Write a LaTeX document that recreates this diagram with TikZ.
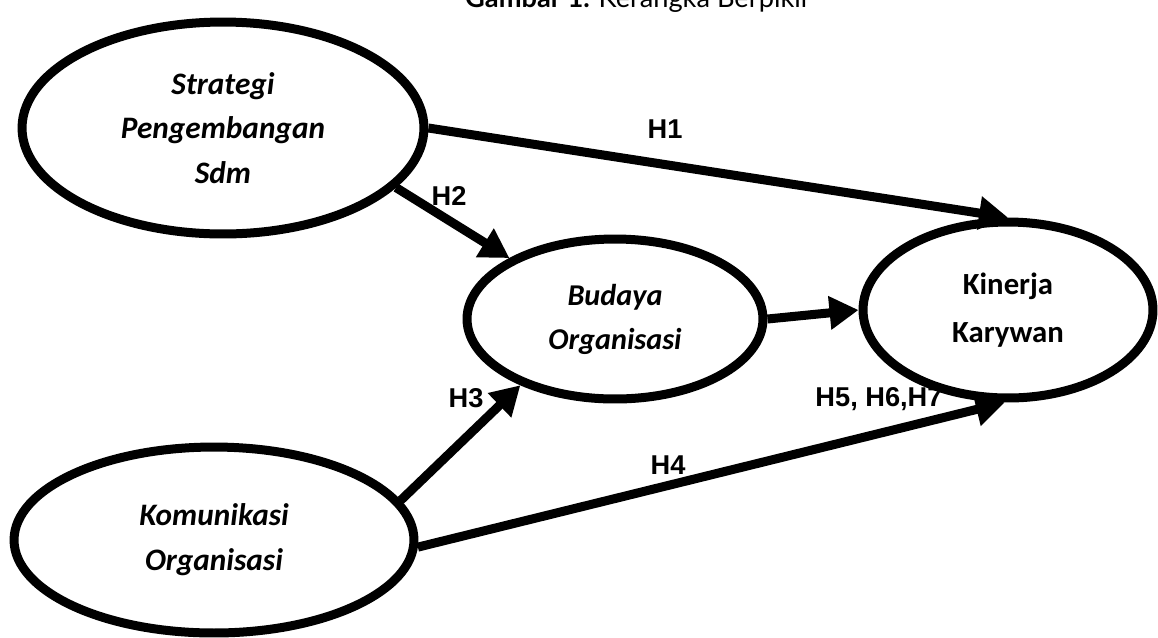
\documentclass[tikz,border=0pt]{standalone}
\usepackage{fontspec}
\setmainfont{Carlito}
\newfontfamily\hfont{Liberation Sans}
\newfontfamily\capfont{Lato}
\usetikzlibrary{shapes.geometric,arrows.meta}

\begin{document}
\begin{tikzpicture}[x=0.02cm,y=-0.02cm,
	var/.style={draw, ellipse, line width=0.18cm, inner sep=0pt, align=center, font=\fontsize{17.8}{25.5}\selectfont\bfseries\itshape},
	hyp/.style={inner sep=0pt, font=\hfont\fontsize{15.5}{18}\selectfont\bfseries},
	link/.style={line width=0.18cm, -{Triangle[length=0.58cm,width=0.64cm]}}]
		%%%%% START %%%%%
		\useasboundingbox (0, 0) rectangle (1158, 637);
		\clip (0, 0) rectangle (1158, 637);
		
		\node[anchor=base] (judul) at (638, 7) {\capfont\fontsize{15.5}{18}\selectfont\bfseries Gambar 1. \mdseries Kerangka Berpikir};
		
		\node[var, minimum width=8.04cm, minimum height=4.24cm] (strat) at (223, 128) {Strategi\\Pengembangan\\Sdm};
		\node[var, minimum width=8cm, minimum height=3.72cm] (komu) at (214, 540) {Komunikasi\\Organisasi};
		\node[var, minimum width=5.92cm, minimum height=3.2cm, font=\fontsize{17.2}{25}\selectfont\bfseries\itshape] (budaya) at (615, 319) {Budaya\\Organisasi};
		\node[var, minimum width=5.8cm, minimum height=3.52cm, font=\fontsize{17.5}{27}\selectfont\bfseries] (kinerja) at (1008, 310) {Kinerja\\Karywan};
		
		\draw[link] (strat.east) -- (kinerja.north);
		\draw[link] (strat.-19) -- (budaya.150);
		\draw[link] (komu.12) -- (budaya.215);
		\draw[link] (komu.-2) -- (kinerja.-92);
		\draw[link] (budaya.east) -- (kinerja.west);
		
		\node[hyp] (h1) at (665, 129) {H1};
		\node[hyp] (h2) at (449, 196) {H2};
		\node[hyp] (h3) at (466, 398) {H3};
		\node[hyp] (h4) at (668, 465) {H4};
		\node[hyp] (h5) at (879, 399) {H5, H6,H7};
		
		%%%%% END %%%%%
	\end{tikzpicture}
\end{document}
